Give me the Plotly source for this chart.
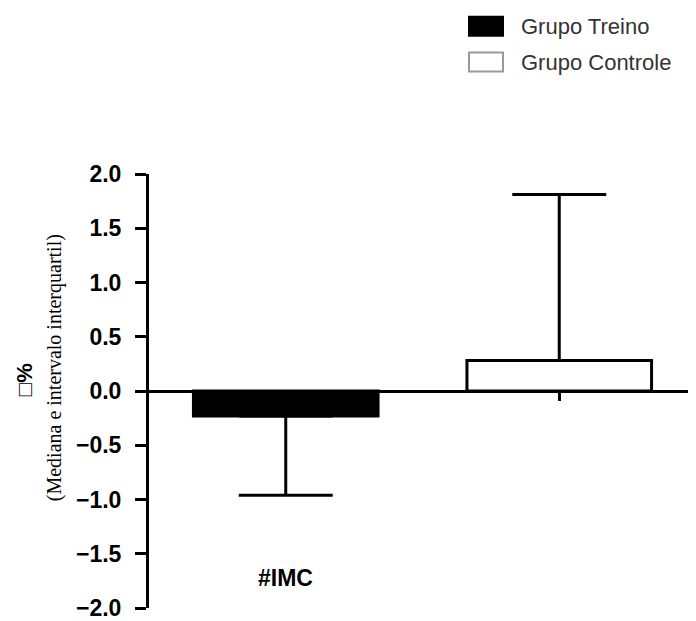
import plotly.graph_objects as go

# ---- data ----
categories = ["#IMC", "controle"]
groups = ["Grupo Treino", "Grupo Controle"]
medians = [-0.23, 0.28]
upper_err = [0.0, 1.53]   # distance from median to upper quartile
lower_err = [0.73, 0.0]   # distance from median to lower quartile
y_ticks = [2.0, 1.5, 1.0, 0.5, 0.0, -0.5, -1.0, -1.5, -2.0]

# page body has an 8px margin: lay out in window pixels, figure is offset by 8
OFF = 8
WIN_W, WIN_H = 696, 621
W, H = WIN_W - OFF, WIN_H - OFF
AX_L, AX_T, AX_B = 149, 174, 610        # window pixels of y-axis line, 2.0 and -2.0
L, T = AX_L - OFF, AX_T - OFF
B = WIN_H - AX_B
R = 0
pw, ph = W - L - R, H - T - B

def px(x):
    return (x - AX_L) / pw

def py(y):
    return (AX_B - y) / ph

fills = ["black", "white"]
fig = go.Figure()
for i in range(2):
    fig.add_trace(go.Bar(
        x=[categories[i]], y=[medians[i]], name=groups[i],
        width=0.675,
        marker=dict(color=fills[i], line=dict(color="black", width=3)),
        error_y=dict(type="data", symmetric=False,
                     array=[upper_err[i]], arrayminus=[lower_err[i]],
                     color="black", thickness=3, width=47),
        showlegend=False,
    ))

fig.update_layout(
    width=W, height=H,
    margin=dict(l=L, r=R, t=T, b=B, pad=0),
    paper_bgcolor="white", plot_bgcolor="white",
    barmode="overlay",
    xaxis=dict(type="category", categoryarray=categories, range=[-0.5, 1.5],
               anchor="free", position=0.5, showline=False, showgrid=False,
               zeroline=False, ticks="outside", ticklen=9, tickwidth=3,
               tickcolor="black", showticklabels=False),
    yaxis=dict(range=[-2, 2], tickvals=y_ticks, tickformat=".1f",
               showline=True, linecolor="black", linewidth=3,
               ticks="outside", ticklen=11, tickwidth=3, tickcolor="black",
               ticklabelstandoff=9, ticklabeloverflow="allow",
               showgrid=False, zeroline=True, zerolinecolor="black",
               zerolinewidth=3,
               tickfont=dict(family="Liberation Sans, Arial", size=23,
                             color="black", weight="bold")),
    font=dict(family="Liberation Sans, Arial"),
)

# category label
fig.add_annotation(x=categories[0], y=-1.72, xref="x", yref="y",
                   xanchor="center", yanchor="middle",
                   text="<b>#IMC</b>", showarrow=False,
                   font=dict(family="Liberation Sans, Arial", size=23, color="black"))

# y-axis title (two lines)
fig.add_annotation(x=px(24), y=0.1, xref="paper", yref="y", textangle=-90,
                   xanchor="center", yanchor="middle",
                   text="<b>□%</b>", showarrow=False,
                   font=dict(family="Liberation Sans, Arial", size=22, color="black"))
fig.add_annotation(x=px(54), y=0.21, xref="paper", yref="y", textangle=-90,
                   xanchor="center", yanchor="middle",
                   text="(Mediana e intervalo interquartil)", showarrow=False,
                   font=dict(family="Liberation Serif, Times New Roman", size=20, color="black"))

# legend (custom)
legend_rows = [(16, 35), (52, 71)]
legend_fill = ["black", "white"]
legend_line = ["black", "#999999"]
for i, (y0, y1) in enumerate(legend_rows):
    fig.add_shape(type="rect", xref="paper", yref="paper",
                  x0=px(469), x1=px(503), y0=py(y1), y1=py(y0),
                  fillcolor=legend_fill[i], line=dict(color=legend_line[i], width=2))
    fig.add_annotation(x=px(519), y=py((y0 + y1) / 2), xref="paper", yref="paper",
                       xanchor="left", yanchor="middle", text=groups[i],
                       showarrow=False,
                       font=dict(family="Liberation Sans, Arial", size=22, color="#333333"))

fig.write_html("out.html")
